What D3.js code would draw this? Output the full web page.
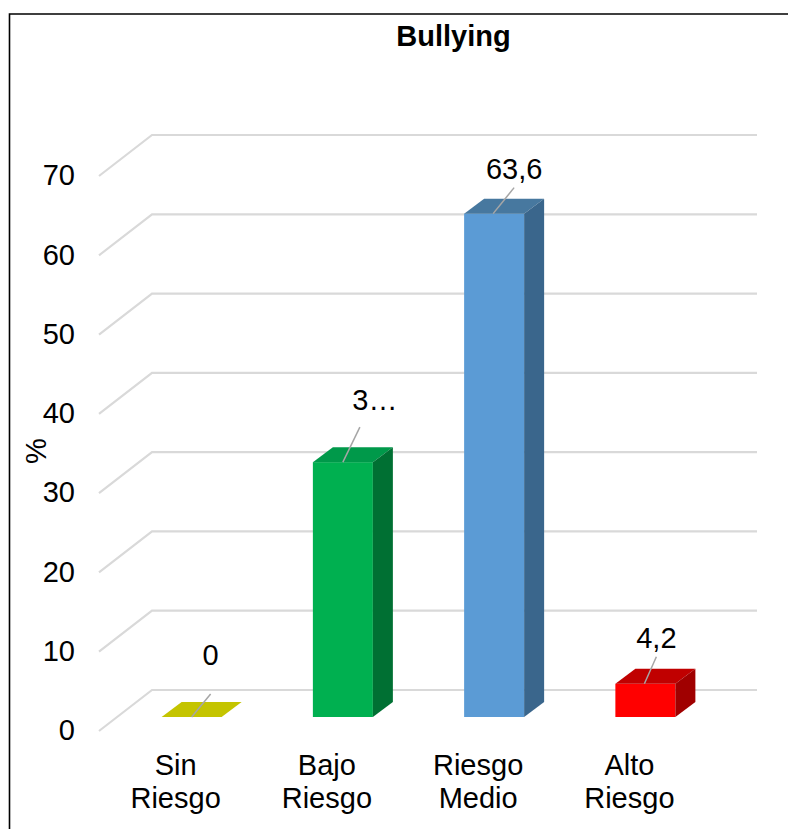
<!DOCTYPE html>
<html>
<head>
<meta charset="utf-8">
<script src="https://cdn.jsdelivr.net/npm/d3@7"></script>
<style>
  html, body { margin: 0; padding: 0; background: #fff; }
  text { font-family: "Liberation Sans", Arial, sans-serif; fill: #000; }
</style>
</head>
<body>
<div id="chart"></div>
<script>
// data
const categories = ["Sin Riesgo", "Bajo Riesgo", "Riesgo Medio", "Alto Riesgo"];
const values = [0, 32.2, 63.6, 4.2];
const valueLabels = ["0", "3…", "63,6", "4,2"];
const ticks = [0, 10, 20, 30, 40, 50, 60, 70];

const frontColors = ["#c4c400", "#00b050", "#5b9bd5", "#ff0000"];
const topColors = ["#c4c400", "#00994a", "#47789f", "#c00000"];
const sideColors = ["#c4c400", "#007033", "#3a668c", "#a00000"];

// setting up sizes
const w = 788;
const h = 829;
const fontSize = 29;

// the floor is drawn in fake 3d, wall is offset from the front plane
const wallDx = 53;
const wallDy = 41;
const barDx = 20;
const barDy = 15;

const svg = d3.select("#chart")
              .append("svg")
              .attr("width", w)
              .attr("height", h)
              .style("display", "block");

// frame, only top and left are visible in the crop
svg.append("path")
   .attr("d", "M9.5," + h + "V14H" + w)
   .attr("fill", "none")
   .attr("stroke", "#000")
   .attr("stroke-width", 1.6);

// scales
const xScale = d3.scaleBand().domain(categories).range([100, 705]);
const yAxisScale = d3.scaleLinear().domain([0, 70]).range([731, 176]);
const yBar = d3.scaleLinear().domain([0, 70]).range([717, 163]);
const barW = 60;
const barX = (d) => xScale(d) + xScale.bandwidth() / 2 + 16 - barW / 2;

// gridlines: diagonal on the side wall, then flat along the back
svg.append("g")
   .selectAll("path")
   .data(ticks)
   .enter()
   .append("path")
   .attr("d", (d) => {
     const y = yAxisScale(d);
     return "M99," + y + "L" + (99 + wallDx) + "," + (y - wallDy) + "H757";
   })
   .attr("fill", "none")
   .attr("stroke", "#d9d9d9")
   .attr("stroke-width", 2.2);

// y axis labels
const yAxis = d3.axisLeft(yAxisScale).tickValues(ticks).tickSize(0).tickPadding(0);
const yG = svg.append("g")
   .attr("transform", "translate(75,-0.5)")
   .call(yAxis);
yG.select(".domain").remove();
yG.selectAll("text").style("font-size", fontSize + "px").style("font-family", '"Liberation Sans"');

// bars
const bars = svg.append("g")
   .selectAll("g")
   .data(categories)
   .enter()
   .append("g");

bars.append("rect")
   .attr("x", (d) => barX(d))
   .attr("y", (d, i) => yBar(values[i]))
   .attr("width", barW)
   .attr("height", (d, i) => yBar(0) - yBar(values[i]))
   .attr("fill", (d, i) => frontColors[i]);

bars.append("polygon")
   .attr("points", (d, i) => {
     const x = barX(d), y = yBar(values[i]);
     return [[x, y], [x + barDx, y - barDy], [x + barW + barDx, y - barDy], [x + barW, y]].join(" ");
   })
   .attr("fill", (d, i) => topColors[i]);

bars.append("polygon")
   .attr("points", (d, i) => {
     const x = barX(d) + barW, y = yBar(values[i]), y0 = yBar(0);
     return [[x, y], [x + barDx, y - barDy], [x + barDx, y0 - barDy], [x, y0]].join(" ");
   })
   .attr("fill", (d, i) => sideColors[i]);

// leader lines and value labels, moved by hand like in the original
const leaderStart = [0, 0, -1, -1];
const leaderEnd = [[19, -23], [17, -35], [20, -26], [11, -27]];
const labelShift = [[19, -62], [32, -62], [20, -45], [11, -46]];

bars.append("line")
   .attr("x1", (d, i) => barX(d) + barW / 2 + leaderStart[i])
   .attr("y1", (d, i) => yBar(values[i]))
   .attr("x2", (d, i) => barX(d) + barW / 2 + leaderEnd[i][0])
   .attr("y2", (d, i) => yBar(values[i]) + leaderEnd[i][1])
   .attr("stroke", "#a6a6a6")
   .attr("stroke-width", 1.5);

bars.append("text")
   .attr("x", (d, i) => barX(d) + barW / 2 + labelShift[i][0])
   .attr("y", (d, i) => yBar(values[i]) + labelShift[i][1])
   .attr("dy", "0.35em")
   .attr("text-anchor", "middle")
   .style("font-size", fontSize + "px")
   .text((d, i) => valueLabels[i]);

// category labels on two lines
svg.append("g")
   .selectAll("text")
   .data(categories)
   .enter()
   .append("text")
   .attr("text-anchor", "middle")
   .style("font-size", fontSize + "px")
   .each(function(d) {
     const x = xScale(d) + xScale.bandwidth() / 2;
     d.split(" ").forEach((word, i) => {
       d3.select(this).append("tspan")
         .attr("x", x)
         .attr("y", 775 + i * 33)
         .text(word);
     });
   });

// titles
svg.append("text")
   .attr("x", 453.5)
   .attr("y", 46)
   .attr("text-anchor", "middle")
   .style("font-size", fontSize + "px")
   .style("font-weight", "bold")
   .text("Bullying");

svg.append("text")
   .attr("transform", "translate(46,451) rotate(-90)")
   .attr("text-anchor", "middle")
   .style("font-size", fontSize + "px")
   .text("%");
</script>
</body>
</html>
